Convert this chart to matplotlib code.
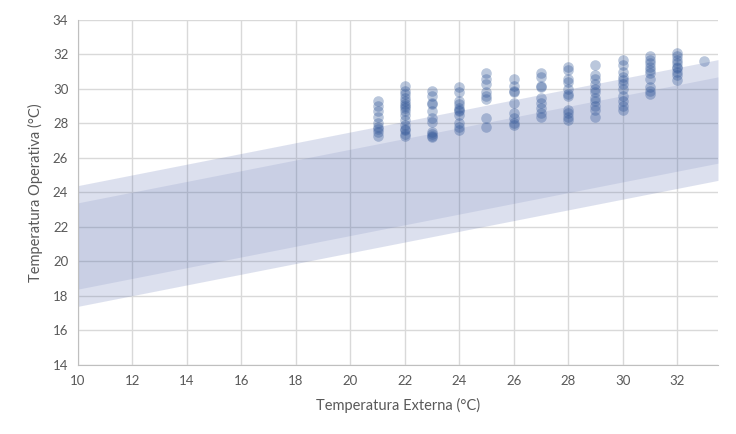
import matplotlib.pyplot as plt

# comfort bands (read at the two ends of the x range)
band_x = [10, 33.5]
outer_top = [24.4, 31.7]
outer_bottom = [17.4, 24.7]
inner_top = [23.4, 30.7]
inner_bottom = [18.4, 25.7]

# measured points, one list per outdoor temperature
points = {
    21: [29.3, 29.0, 28.7, 28.4, 28.0, 27.8, 27.7, 27.5, 27.3],
    22: [30.2, 29.9, 29.7, 29.5, 29.3, 29.1, 29.0, 28.9, 28.7, 28.5, 28.2,
         27.9, 27.7, 27.6, 27.4, 27.3],
    23: [29.9, 29.6, 29.2, 29.1, 28.7, 28.3, 28.1, 27.5, 27.4, 27.3, 27.2],
    24: [30.1, 29.8, 29.3, 29.1, 28.9, 28.8, 28.7, 28.5, 28.0, 27.8, 27.6],
    25: [30.9, 30.6, 30.3, 29.8, 29.6, 29.4, 28.3, 27.8],
    26: [30.6, 30.2, 29.9, 29.8, 29.2, 28.6, 28.3, 28.0, 27.9],
    27: [30.9, 30.7, 30.2, 30.1, 29.5, 29.2, 28.9, 28.6, 28.4],
    28: [31.3, 31.1, 30.6, 30.4, 30.0, 29.7, 29.6, 28.8, 28.6, 28.4, 28.2],
    29: [31.4, 30.8, 30.6, 30.3, 30.0, 29.8, 29.5, 29.3, 29.0, 28.8, 28.4],
    30: [31.7, 31.4, 31.0, 30.7, 30.5, 30.3, 30.0, 29.6, 29.3, 29.0, 28.8],
    31: [31.9, 31.7, 31.5, 31.3, 31.1, 30.9, 30.6, 30.1, 29.9, 29.7],
    32: [32.1, 31.9, 31.7, 31.5, 31.3, 31.2, 31.0, 30.8, 30.5],
    33: [31.6],
}

x_ticks = list(range(10, 34, 2))
y_ticks = list(range(14, 35, 2))

plt.rcParams['font.family'] = ['Lato', 'DejaVu Sans']
fig = plt.figure(figsize=(7.36, 4.34), dpi=100)
ax = fig.add_axes([0.106, 0.159, 0.8695, 0.795])

ax.fill_between(band_x, outer_bottom, outer_top, color='#4a5fa8', alpha=0.19, lw=0, zorder=2)
ax.fill_between(band_x, inner_bottom, inner_top, color='#4a5fa8', alpha=0.13, lw=0, zorder=2)

xs, ys = [], []
for x, vals in points.items():
    xs += [x] * len(vals)
    ys += vals
ax.scatter(xs, ys, s=58, color='#2f5597', alpha=0.33, lw=0, zorder=3)

ax.set_xlim(10, 33.5)
ax.set_ylim(14, 34)
ax.set_xticks(x_ticks)
ax.set_yticks(y_ticks)
ax.grid(True, color='#d9d9d9', lw=1)
ax.set_axisbelow(True)
for side in ['top', 'right']:
    ax.spines[side].set_visible(False)
for side in ['left', 'bottom']:
    ax.spines[side].set_color('#bfbfbf')
ax.tick_params(length=0, labelsize=9.5, labelcolor='#595959', pad=7)
ax.set_xlabel('Temperatura Externa (°C)', fontsize=10.5, color='#595959', labelpad=8)
ax.set_ylabel('Temperatura Operativa (°C)', fontsize=10.5, color='#595959', labelpad=7)

fig.savefig('out.png', dpi=100)
